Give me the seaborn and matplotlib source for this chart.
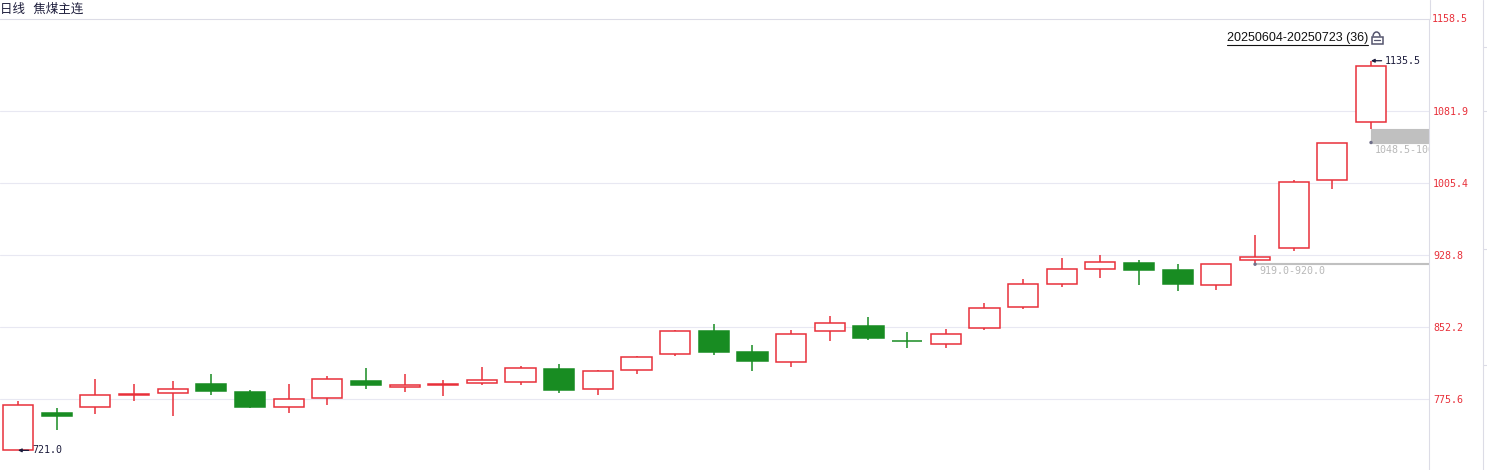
import numpy as np
import pandas as pd
import seaborn as sns
import matplotlib.pyplot as plt
from matplotlib.lines import Line2D
from matplotlib.patches import Rectangle, Arc

# 焦煤主连 日线 20250604-20250723, 36 根K线 (数值读自截图)
start_date = "20250604"
end_date = "20250723"
opens = [721.0, 760.5, 767.0, 780.0, 781.5, 791.5, 783.0, 767.0, 776.5, 795.0,
         788.0, 790.0, 792.5, 794.0, 807.5, 786.0, 806.0, 823.0, 848.0, 825.5,
         815.5, 848.5, 853.5, 837.0, 834.0, 851.0, 873.0, 898.5, 913.5, 920.5,
         913.0, 896.5, 924.0, 936.0, 1008.5, 1070.0]
highs = [773.5, 766.0, 796.5, 791.5, 795.0, 802.0, 785.0, 791.5, 800.0, 808.5,
         802.0, 796.0, 809.5, 810.5, 813.0, 806.0, 821.5, 849.0, 855.5, 833.0,
         849.0, 864.0, 863.0, 847.0, 850.0, 877.5, 903.5, 925.5, 929.0, 923.5,
         919.0, 919.0, 950.0, 1008.5, 1048.5, 1135.5]
lows = [721.0, 743.0, 759.5, 774.0, 758.0, 780.0, 766.5, 760.5, 769.5, 786.0,
        783.5, 779.0, 790.0, 790.0, 782.5, 780.0, 802.5, 821.5, 822.5, 805.5,
        810.0, 837.5, 838.5, 830.0, 830.0, 849.5, 871.5, 895.0, 904.5, 897.0,
        891.0, 892.0, 920.0, 933.5, 999.5, 1063.0]
closes = [769.0, 758.0, 779.5, 781.0, 786.0, 784.5, 767.5, 775.5, 796.5, 791.0,
          791.0, 791.5, 795.5, 808.5, 785.5, 805.0, 820.0, 848.5, 825.5, 816.0,
          844.5, 857.0, 840.5, 837.0, 844.5, 872.0, 897.5, 913.5, 921.0, 913.0,
          898.5, 919.0, 926.5, 1007.0, 1048.5, 1129.5]
ytick_values = [775.6, 852.2, 928.8, 1005.4, 1081.9]
top_label = "1158.5"

RED = "#e8303a"
GREEN = "#188c22"
GRID = "#e8e8f2"
LINE = "#dcdce6"

df = pd.DataFrame({"open": opens, "high": highs, "low": lows, "close": closes})
df["i"] = np.arange(len(df))
prev_close = df["close"].shift(1).fillna(df["open"])
df["up"] = (df["close"] > df["open"]) | ((df["close"] == df["open"]) & (df["close"] >= prev_close))

# 未回补缺口: 前一日最高 < 当日最低
gaps = []
for k in range(1, len(df)):
    if df.loc[k, "low"] > df.loc[k - 1, "high"]:
        gaps.append((k, df.loc[k - 1, "high"], df.loc[k, "low"]))
gap_df = pd.DataFrame(gaps, columns=["i", "lo", "hi"])

sns.set_theme(style="white")
plt.rcParams["font.family"] = ["Noto Sans CJK SC", "DejaVu Sans"]
plt.rcParams["axes.unicode_minus"] = False

W, H = 1487, 470
fig = plt.figure(figsize=(W / 100, H / 100), dpi=100)
ax = fig.add_axes([0, 0, 1429 / W, 451 / H])

# 影线
colors = np.where(df["up"], RED, GREEN)
ax.vlines(df["i"], df["low"], df["high"], colors=colors, linewidth=1.1, zorder=2)

# 实体
body_bottom = np.minimum(df["open"], df["close"])
body_h = np.maximum((df["close"] - df["open"]).abs(), 0.01)
face = np.where(df["up"], "white", GREEN)
ax.bar(df["i"], body_h, bottom=body_bottom, width=0.78, color=face,
       edgecolor=colors, linewidth=1.1, zorder=3)

# 缺口
x_right = len(df) + 0.5
for _, g in gap_df.iterrows():
    ax.fill_between([g["i"], x_right], g["lo"], g["hi"], color="#c0c0c0",
                    linewidth=0.8, edgecolor="#c0c0c0", zorder=1)
    ax.annotate(f"{g['lo']:.1f}-{g['hi']:.1f}", xy=(g["i"], g["lo"]),
                xytext=(3, -1.5), textcoords="offset points", ha="left", va="top",
                fontsize=7.2, family="DejaVu Sans Mono", color="#b8b8b8",
                clip_on=True)
sns.scatterplot(data=gap_df, x="i", y="lo", ax=ax, color="#70708a", s=6,
                edgecolor="none", zorder=4, legend=False)

# 最高/最低标注
imax = int(df["high"].idxmax())
imin = int(df["low"].idxmin())
for idx, val in [(imax, df["high"].max()), (imin, df["low"].min())]:
    ax.annotate(f"{val:.1f}", xy=(idx, val), xytext=(10, 0), textcoords="offset points",
                ha="left", va="center", fontsize=7.2, family="DejaVu Sans Mono",
                color="#1c1c3c",
                arrowprops=dict(arrowstyle="-|>", color="#1c1c3c", lw=0.9,
                                mutation_scale=5, shrinkA=0, shrinkB=0))

ax.set_xlim(-0.466, len(df) + 0.5)
ax.set_ylim(700.1, 1179.9)
ax.set_xticks([])
ax.yaxis.tick_right()
ax.set_yticks(ytick_values)
ax.set_yticklabels([f"{v:.1f}" for v in ytick_values], family="DejaVu Sans Mono",
                   fontsize=7.2, color=RED)
ax.tick_params(axis="y", length=0, pad=3)
ax.grid(axis="y", color=GRID, linewidth=0.8)
ax.set_axisbelow(True)
ax.set_xlabel("")
ax.set_ylabel("")
for side in ["left", "bottom"]:
    ax.spines[side].set_visible(False)
for side in ["top", "right"]:
    ax.spines[side].set_color(LINE)
    ax.spines[side].set_linewidth(0.8)
ax.text(1.0 + 3 / 1429, 1.0, top_label, transform=ax.transAxes, ha="left", va="center",
        fontsize=7.2, family="DejaVu Sans Mono", color=RED)

# 右侧分隔线
fig.add_artist(Line2D([1429.5 / W, 1429.5 / W], [451 / H, 1], color=LINE, lw=0.8))
fig.add_artist(Line2D([1482.5 / W, 1482.5 / W], [0, 1], color=LINE, lw=0.8))
for yy in [46.7, 111, 249, 365]:
    fig.add_artist(Line2D([1482.5 / W, 1], [1 - yy / H, 1 - yy / H], color=LINE, lw=0.8))

# 标题
fig.text(0.5 / W, 1 - 9.5 / H, "日线   焦煤主连", ha="left", va="center",
         fontsize=9, color="#1e1e3c")

# 区间标签 (带下划线) 与锁图标
rng = fig.text(1368 / W, 1 - 38 / H, f"{start_date}-{end_date} ({len(df)})",
               ha="right", va="center", fontsize=9.0, family="Liberation Sans",
               color="#111111")
fig.canvas.draw()
bb = rng.get_window_extent()
fig.add_artist(Line2D([bb.x0 / W, bb.x1 / W], [(bb.y0 - 0.5) / H, (bb.y0 - 0.5) / H],
                      color="#111111", lw=0.8))
fig.add_artist(Rectangle((1371.5 / W, 1 - 43.5 / H), 11 / W, 7 / H, fill=False,
                         edgecolor="#55556e", lw=1.1, transform=fig.transFigure))
fig.add_artist(Line2D([1374 / W, 1380 / W], [1 - 40 / H, 1 - 40 / H], color="#55556e", lw=0.9))
fig.add_artist(Arc((1376.5 / W, 1 - 36.5 / H), 7 / W, 9 / H, theta1=0, theta2=180,
                   color="#55556e", lw=1.1, transform=fig.transFigure))

fig.savefig("out.png", dpi=100)
